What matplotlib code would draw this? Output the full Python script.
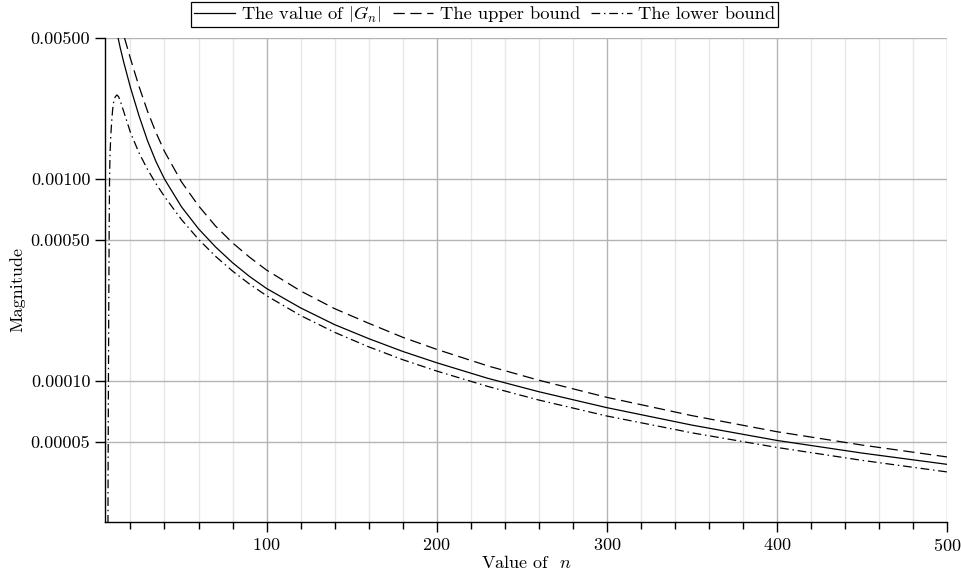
import matplotlib
matplotlib.use("Agg")
import matplotlib.pyplot as plt
from matplotlib.ticker import FixedLocator, FixedFormatter, MultipleLocator, NullLocator

plt.rcParams['font.family'] = 'serif'
plt.rcParams['font.serif'] = ['cmr10', 'DejaVu Serif']
plt.rcParams['mathtext.fontset'] = 'cm'
plt.rcParams['axes.unicode_minus'] = False
plt.rcParams['axes.formatter.use_mathtext'] = True

# values
n_value = [10, 12, 14, 16, 20, 25, 30, 35, 40, 50, 60, 70, 80, 90, 100, 120, 140,
           160, 180, 200, 230, 260, 300, 350, 400, 450, 500]
g_value = [6.51e-3, 5.33e-3, 4.46e-3, 3.80e-3, 2.84e-3, 2.06e-3, 1.55e-3, 1.22e-3,
           1.0e-3, 7.28e-4, 5.67e-4, 4.61e-4, 3.85e-4, 3.29e-4, 2.87e-4, 2.30e-4,
           1.90e-4, 1.62e-4, 1.40e-4, 1.23e-4, 1.03e-4, 8.84e-5, 7.37e-5, 6.04e-5,
           5.07e-5, 4.39e-5, 3.86e-5]

n_upper = [14, 16, 20, 25, 30, 35, 40, 50, 60, 70, 80, 90, 100, 120, 140,
           160, 180, 200, 230, 260, 300, 350, 400, 450, 500]
upper = [6.02e-3, 5.17e-3, 3.95e-3, 2.88e-3, 2.17e-3, 1.70e-3, 1.37e-3, 9.68e-4,
         7.37e-4, 5.85e-4, 4.83e-4, 4.10e-4, 3.54e-4, 2.79e-4, 2.28e-4, 1.93e-4,
         1.645e-4, 1.433e-4, 1.187e-4, 1.008e-4, 8.29e-5, 6.73e-5, 5.60e-5,
         4.81e-5, 4.20e-5]

n_lower = [6.7, 6.8, 7.0, 7.2, 7.5, 7.7, 8, 8.5, 9, 9.5, 10, 11, 12, 13, 14, 16,
           20, 25, 30, 35, 40, 50, 60, 70, 80, 90, 100, 120, 140, 160, 180, 200,
           230, 260, 300, 350, 400, 450, 500]
lower = [1e-5, 2.5e-5, 8e-5, 2e-4, 6e-4, 1.0e-3, 1.35e-3, 1.68e-3, 1.95e-3,
         2.2e-3, 2.38e-3, 2.55e-3, 2.61e-3, 2.56e-3, 2.44e-3, 2.164e-3, 1.70e-3,
         1.349e-3, 1.117e-3, 9.49e-4, 8.19e-4, 6.295e-4, 5.03e-4, 4.142e-4,
         3.50e-4, 3.017e-4, 2.642e-4, 2.108e-4, 1.74e-4, 1.475e-4, 1.274e-4,
         1.119e-4, 9.39e-5, 8.04e-5, 6.70e-5, 5.53e-5, 4.68e-5, 4.04e-5, 3.54e-5]

y_ticks = [0.005, 0.001, 0.0005, 0.0001, 0.00005]
y_labels = ["0.00500", "0.00100", "0.00050", "0.00010", "0.00005"]

fig = plt.figure(figsize=(9.62, 5.76), dpi=100)
ax = fig.add_axes([0.1091, 0.0938, 0.8753, 0.8403])

ax.plot(n_value, g_value, color='black', lw=0.9, ls='-', label=r"The value of $\left|G_n\right|$")
ax.plot(n_upper, upper, color='black', lw=0.9, ls=(0, (9, 4.5)), label="The upper bound")
ax.plot(n_lower, lower, color='black', lw=0.9, ls=(0, (7, 3, 1.2, 3)), label="The lower bound")

ax.set_yscale('log')
ax.set_xlim(5, 500)
ax.set_ylim(2e-5, 5e-3)

ax.yaxis.set_major_locator(FixedLocator(y_ticks))
ax.yaxis.set_major_formatter(FixedFormatter(y_labels))
ax.yaxis.set_minor_locator(NullLocator())
ax.xaxis.set_major_locator(FixedLocator([100, 200, 300, 400, 500]))
ax.xaxis.set_minor_locator(MultipleLocator(20))

ax.grid(True, which='major', color='#b4b4b4', lw=1.0)
ax.grid(True, which='minor', axis='x', color='#e8e8e8', lw=1.0)
ax.set_axisbelow(True)

for s in ['top', 'right']:
    ax.spines[s].set_visible(False)
ax.spines['left'].set_linewidth(1.0)
ax.spines['bottom'].set_linewidth(1.0)

ax.tick_params(axis='both', which='major', direction='out', length=7, width=1.0, labelsize=13)
ax.tick_params(axis='x', which='minor', direction='out', length=5, width=1.0)

ax.set_xlabel(r"Value of  $n$", fontsize=13, labelpad=0)
ax.set_ylabel("Magnitude", fontsize=13)
ax.yaxis.set_label_coords(-0.094, 0.48)

leg = fig.legend(loc='upper center', bbox_to_anchor=(0.504, 0.997), ncol=3,
                 fontsize=13.3, frameon=True, fancybox=False, framealpha=1,
                 edgecolor='black', borderpad=0.15, handlelength=2.2,
                 handletextpad=0.35, columnspacing=0.6, borderaxespad=0)
leg.get_frame().set_linewidth(0.9)

fig.savefig("out.png", dpi=100)
